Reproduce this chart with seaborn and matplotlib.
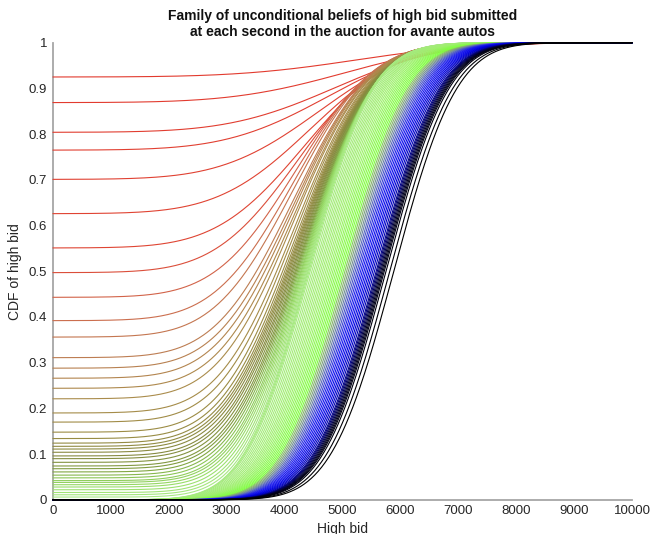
import math
import numpy as np
import pandas as pd
import matplotlib
matplotlib.use("Agg")
import matplotlib.pyplot as plt
from matplotlib.colors import LinearSegmentedColormap
import seaborn as sns

# Starting level of each belief curve at a bid of 0 (probability no higher bid arrives)
intercepts = [0.925, 0.869, 0.804, 0.765, 0.701, 0.626, 0.551, 0.497, 0.443, 0.392,
              0.356, 0.311, 0.288, 0.266, 0.244, 0.221, 0.190, 0.170, 0.148, 0.134,
              0.124, 0.117, 0.111, 0.104, 0.096, 0.090, 0.082, 0.074, 0.068, 0.061,
              0.054, 0.048, 0.042, 0.038, 0.033, 0.028, 0.022, 0.016, 0.011, 0.006]
# Location / spread of the bid distribution behind each of those curves
intercept_centres = [5250, 5050, 4880, 4750, 4600, 4460, 4350, 4260, 4200, 4160,
                     4150, 4150, 4150, 4150, 4160, 4160, 4170, 4180, 4190, 4200,
                     4210, 4220, 4230, 4240, 4250, 4260, 4270, 4280, 4290, 4300,
                     4310, 4320, 4330, 4340, 4350, 4360, 4370, 4380, 4390, 4400]
intercept_spreads = [1600, 1520, 1440, 1380, 1320, 1260, 1200, 1150, 1100, 1080,
                     1070, 1060, 1050, 1045, 1040, 1035, 1030, 1025, 1020, 1015,
                     1010, 1005, 1000, 995, 990, 985, 980, 975, 970, 965,
                     960, 950, 940, 930, 920, 910, 900, 890, 880, 870]

# Later seconds: no mass at zero, distribution drifting to higher bids
green_centres = [4405, 4420, 4440, 4470, 4500, 4530, 4560, 4590, 4620, 4650,
                 4680, 4710, 4740, 4770, 4800, 4830, 4860, 4890, 4920, 4950,
                 4980, 5010]
green_spreads = [868, 866, 864, 862, 860, 858, 856, 854, 852, 850,
                 850, 850, 850, 850, 850, 850, 850, 850, 850, 850,
                 850, 850]
blue_centres = [5040, 5070, 5100, 5130, 5160, 5190, 5220, 5250, 5280, 5310,
                5340, 5370, 5400, 5430, 5460, 5490, 5520, 5550]
blue_spreads = [850, 850, 850, 850, 850, 850, 850, 850, 850, 850,
                850, 850, 850, 850, 850, 850, 850, 850]
black_centres = [5580, 5600, 5620, 5640, 5660, 5680, 5700, 5720, 5750, 5815, 5885]
black_spreads = [850, 850, 850, 850, 850, 850, 850, 850, 850, 850, 850]

x_ticks = list(range(0, 10001, 1000))
y_ticks = [round(0.1 * k, 1) for k in range(11)]
y_tick_labels = ["0", "0.1", "0.2", "0.3", "0.4", "0.5", "0.6", "0.7", "0.8", "0.9", "1"]

sns.set_theme(style="white")
plt.rcParams["font.family"] = ["Liberation Sans", "DejaVu Sans"]

bids = np.linspace(0, 10000, 501)
erf = np.vectorize(math.erf)


def cdf(p0, mu, sd):
    return p0 + (1 - p0) * 0.5 * (1 + erf((bids - mu) / (sd * math.sqrt(2))))


curves = []
for p0, mu, sd in zip(intercepts, intercept_centres, intercept_spreads):
    curves.append(cdf(p0, mu, sd))
for group_c, group_s in ((green_centres, green_spreads),
                         (blue_centres, blue_spreads),
                         (black_centres, black_spreads)):
    for mu, sd in zip(group_c, group_s):
        curves.append(cdf(0.0, mu, sd))

n_int, n_g, n_b, n_k = len(intercepts), len(green_centres), len(blue_centres), len(black_centres)
positions = np.concatenate([
    np.linspace(0.0, 0.60, n_int),
    np.linspace(0.61, 0.74, n_g),
    np.linspace(0.76, 0.90, n_b),
    np.linspace(0.92, 1.0, n_k),
])
cmap = LinearSegmentedColormap.from_list("auction", [
    (0.00, "#e23a2e"), (0.10, "#df4634"), (0.125, "#d0684c"), (0.17, "#bc7e52"),
    (0.23, "#aa8c4c"), (0.28, "#9a8c44"), (0.37, "#868a40"), (0.44, "#80a040"),
    (0.48, "#8cc858"), (0.54, "#9ade6a"), (0.60, "#a8e884"), (0.68, "#a0f070"),
    (0.74, "#80ff40"), (0.77, "#88b070"), (0.80, "#6070b8"), (0.84, "#1a1af0"),
    (0.88, "#0000e0"), (0.92, "#000090"), (0.96, "#000020"), (1.00, "#000000"),
])
palette = [cmap(t) for t in positions]

frame = pd.DataFrame({
    "bid": np.tile(bids, len(curves)),
    "cdf": np.concatenate(curves),
    "second": np.repeat(np.arange(len(curves)), len(bids)),
})

fig = plt.figure(figsize=(6.53, 5.34), dpi=100)
ax = fig.add_axes([0.081, 0.064, 0.887, 0.856])
sns.lineplot(data=frame, x="bid", y="cdf", hue="second", palette=palette,
             estimator=None, sort=False, legend=False, linewidth=0.8, ax=ax)
# let the curves resting on 0 and 1 show their full width over the axis lines
for line in ax.lines:
    line.set_clip_on(False)
    line.set_zorder(3)

ax.set_xlim(0, 10000)
ax.set_ylim(0, 1)
ax.set_xticks(x_ticks)
ax.set_xticklabels([str(v) for v in x_ticks])
ax.set_yticks(y_ticks)
ax.set_yticklabels(y_tick_labels)
sns.despine(ax=ax)
for side in ("left", "bottom"):
    ax.spines[side].set_color("#a6a6a6")
    ax.spines[side].set_linewidth(1.3)
    ax.spines[side].set_zorder(2)
ax.tick_params(direction="in", length=4, width=1, color="#7f7f7f",
               labelsize=9.5, labelcolor="#262626", pad=4)
ax.set_xlabel("High bid", fontsize=10, color="#262626", labelpad=3)
ax.set_ylabel("CDF of high bid", fontsize=10, color="#262626", labelpad=5)
ax.set_title("Family of unconditional beliefs of high bid submitted\n"
             "at each second in the auction for avante autos",
             fontsize=10, fontweight="bold", color="#111111", pad=5)

fig.savefig("out.png", dpi=100)
